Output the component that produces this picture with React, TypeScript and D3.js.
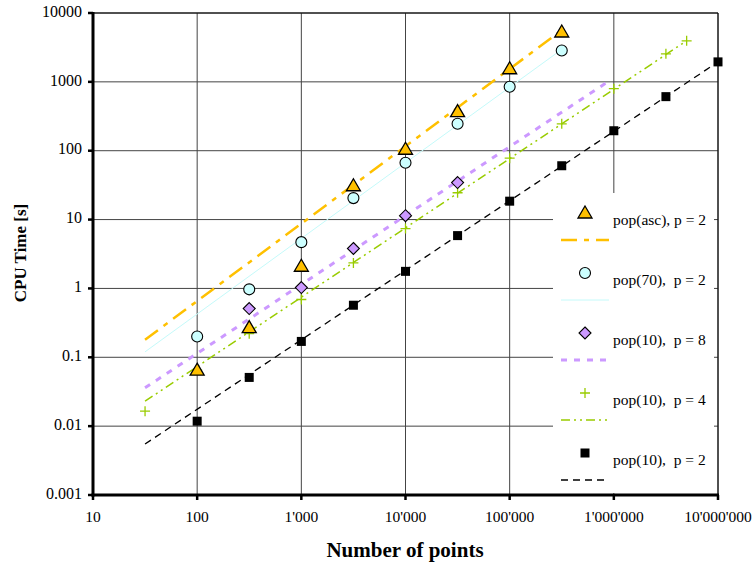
import React from "react";
import * as d3 from "d3";

// axis ticks
const xTicks = [10, 100, 1e3, 1e4, 1e5, 1e6, 1e7];
const xTickLabels = ["10", "100", "1'000", "10'000", "100'000", "1'000'000", "10'000'000"];
const yTicks = [0.001, 0.01, 0.1, 1, 10, 100, 1000, 10000];
const yTickLabels = ["0.001", "0.01", "0.1", "1", "10", "100", "1000", "10000"];

// measured points
const ascX = [100, 316, 1000, 3162, 10000, 31623, 100000, 316228];
const ascY = [0.065, 0.27, 2.1, 31, 105, 370, 1550, 5300];
const p70X = [100, 316, 1000, 3162, 10000, 31623, 100000, 316228];
const p70Y = [0.2, 0.97, 4.7, 20.5, 67, 246, 850, 2850];
const p8X = [316, 1000, 3162, 10000, 31623];
const p8Y = [0.51, 1.03, 3.8, 11.4, 34.5];
const p4X = [31.6, 100, 316, 1000, 3162, 10000, 31623, 100000, 316228, 1e6, 3162278, 5e6];
const p4Y = [0.0165, 0.065, 0.22, 0.69, 2.35, 7.4, 24.5, 78, 246, 795, 2550, 3950];
const p2X = [100, 316, 1000, 3162, 10000, 31623, 100000, 316228, 1e6, 3162278, 1e7];
const p2Y = [0.0118, 0.051, 0.17, 0.57, 1.77, 5.85, 18.5, 60.5, 195, 610, 1950];

// trend lines (end points)
const ascTrendX = [31.6, 300000];
const ascTrendY = [0.18, 5300];
const p70TrendX = [31.6, 284000];
const p70TrendY = [0.12, 2630];
const p8TrendX = [31.6, 900000];
const p8TrendY = [0.036, 1030];
const p4TrendX = [31.6, 5e6];
const p4TrendY = [0.023, 3950];
const p2TrendX = [31.6, 1e7];
const p2TrendY = [0.0055, 1950];

const seriesNames = ["pop(asc), p = 2", "pop(70),  p = 2", "pop(10),  p = 8", "pop(10),  p = 4", "pop(10),  p = 2"];

const W = 754, H = 565;
const left = 93, right = 718, top = 13, bottom = 495;

const x = d3.scaleLog().domain([10, 1e7]).range([left, right]);
const y = d3.scaleLog().domain([0.001, 10000]).range([bottom, top]);

const series = [
  { name: seriesNames[0], xs: ascX, ys: ascY, tx: ascTrendX, ty: ascTrendY, marker: "triangle", fill: "#FFC000", line: "#FFC000", lw: 2.5, dash: "16 7 5 7" },
  { name: seriesNames[1], xs: p70X, ys: p70Y, tx: p70TrendX, ty: p70TrendY, marker: "circle", fill: "#CCFFFF", line: "#C4FAFA", lw: 1, dash: "" },
  { name: seriesNames[2], xs: p8X, ys: p8Y, tx: p8TrendX, ty: p8TrendY, marker: "diamond", fill: "#CC99FF", line: "#CC99FF", lw: 3, dash: "6 7" },
  { name: seriesNames[3], xs: p4X, ys: p4Y, tx: p4TrendX, ty: p4TrendY, marker: "plus", fill: "#99CC00", line: "#99CC00", lw: 1.5, dash: "9 4 2 4 2 4" },
  { name: seriesNames[4], xs: p2X, ys: p2Y, tx: p2TrendX, ty: p2TrendY, marker: "square", fill: "#000", line: "#000", lw: 1.3, dash: "7 5" },
];

const Marker = ({ type, cx, cy, fill }) => {
  if (type === "triangle")
    return <path d={`M${cx},${cy - 7}L${cx + 7},${cy + 5}L${cx - 7},${cy + 5}Z`} fill={fill} stroke="#000" strokeWidth={1.3} />;
  if (type === "circle")
    return <circle cx={cx} cy={cy} r={5.5} fill={fill} stroke="#000" strokeWidth={1.1} />;
  if (type === "diamond")
    return <path d={`M${cx},${cy - 6}L${cx + 6},${cy}L${cx},${cy + 6}L${cx - 6},${cy}Z`} fill={fill} stroke="#000" strokeWidth={1.1} />;
  if (type === "plus")
    return <path d={`M${cx - 5},${cy}H${cx + 5}M${cx},${cy - 5}V${cy + 5}`} stroke={fill} strokeWidth={1.3} />;
  return <rect x={cx - 4.5} y={cy - 4.5} width={9} height={9} fill={fill} />;
};

export default function App() {
  return (
    <>
      <style>{"body{margin:0}"}</style>
      <svg width={W} height={H} style={{ display: "block", fontFamily: "'Liberation Serif', 'Times New Roman', serif" }}>
        <rect width={W} height={H} fill="#fff" />
        {/* grid */}
        {yTicks.slice(1).map(t => (
          <line key={"gy" + t} x1={left} x2={right} y1={y(t)} y2={y(t)} stroke="#444" strokeWidth={1} />
        ))}
        {xTicks.slice(1).map(t => (
          <line key={"gx" + t} x1={x(t)} x2={x(t)} y1={top} y2={bottom} stroke="#444" strokeWidth={1} />
        ))}

        {/* trend lines */}
        {series.map(s => (
          <path key={"t" + s.name}
            d={d3.line<number>().x((d, i) => x(s.tx[i])).y(d => y(d))(s.ty) || ""}
            fill="none" stroke={s.line} strokeWidth={s.lw} strokeDasharray={s.dash} />
        ))}
        {/* markers (drawn back to front) */}
        {[...series].reverse().map(s => (
          <g key={"m" + s.name}>
            {s.ys.map((v, i) => <Marker key={i} type={s.marker} cx={x(s.xs[i])} cy={y(v)} fill={s.fill} />)}
          </g>
        ))}

        {/* legend */}
        <rect x={553} y={193} width={161} height={300} fill="#fff" />
        {series.map((s, i) => {
          const base = 213 + i * 60;
          return (
            <g key={"l" + s.name}>
              <Marker type={s.marker} cx={585} cy={base} fill={s.fill} />
              <line x1={561} x2={609} y1={base + 27} y2={base + 27} stroke={s.line} strokeWidth={s.lw} strokeDasharray={s.dash} />
              <text x={613} y={base + 8} dominantBaseline="middle" fontSize={15.5} style={{ whiteSpace: "pre" }}>{s.name}</text>
            </g>
          );
        })}

        {/* frame */}
        <line x1={left} x2={right} y1={top} y2={top} stroke="#000" strokeWidth={1} />
        <line x1={right} x2={right} y1={top} y2={bottom} stroke="#000" strokeWidth={1} />
        <line x1={left} x2={left} y1={top - 1} y2={bottom + 1.5} stroke="#000" strokeWidth={3} />
        <line x1={left - 1.5} x2={right + 1} y1={bottom} y2={bottom} stroke="#000" strokeWidth={3} />

        {/* y axis */}
        {yTicks.map((t, i) => (
          <g key={"yt" + t}>
            <line x1={left - 5} x2={left} y1={y(t)} y2={y(t)} stroke="#000" strokeWidth={2.5} />
            <text x={82} y={y(t)} textAnchor="end" dominantBaseline="middle" fontSize={16}>{yTickLabels[i]}</text>
          </g>
        ))}
        {/* x axis */}
        {xTicks.map((t, i) => (
          <g key={"xt" + t}>
            <line x1={x(t)} x2={x(t)} y1={bottom} y2={bottom + 5} stroke="#000" strokeWidth={2.5} />
            <text x={x(t)} y={518} textAnchor="middle" dominantBaseline="middle" fontSize={15.5}>{xTickLabels[i]}</text>
          </g>
        ))}

        <text x={405} y={552} textAnchor="middle" dominantBaseline="middle" fontSize={21} fontWeight="bold">Number of points</text>
        <text transform={`translate(22,253) rotate(-90)`} textAnchor="middle" dominantBaseline="middle" fontSize={17} fontWeight="bold">CPU Time [s]</text>
      </svg>
    </>
  );
}
